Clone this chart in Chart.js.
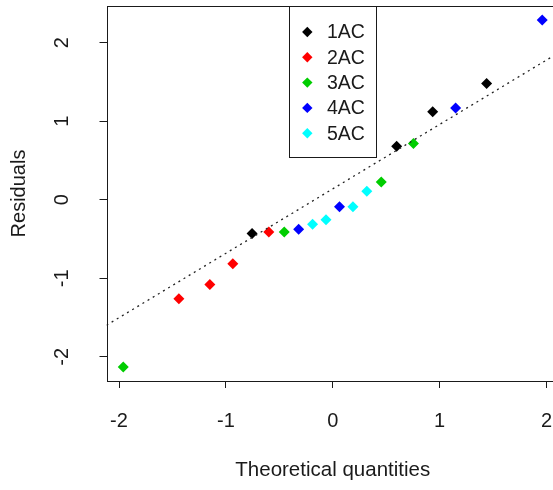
<!DOCTYPE html>
<html>
<head>
<meta charset="utf-8">
<script src="https://cdn.jsdelivr.net/npm/chart.js@4/dist/chart.umd.min.js"></script>
<style>
  html, body { margin: 0; padding: 0; background: #fff; overflow: hidden; }
  canvas { display: block; }
</style>
</head>
<body>
<canvas id="qq" width="600" height="490"></canvas>
<script>
// Normal Q-Q plot of model residuals, coloured by group
const groups = ['1AC', '2AC', '3AC', '4AC', '5AC'];

// theoretical normal quantiles of each observation, per group
const quantiles1AC = [-0.755, 0.598, 0.935, 1.440];
const quantiles2AC = [-1.440, -1.150, -0.935, -0.598];
const quantiles3AC = [-1.960, -0.454, 0.454, 0.755];
const quantiles4AC = [-0.319, 0.063, 1.150, 1.960];
const quantiles5AC = [-0.189, -0.063, 0.189, 0.319];

// sample residuals, same order as the quantiles above
const residuals1AC = [-0.43, 0.68, 1.12, 1.48];
const residuals2AC = [-1.26, -1.08, -0.815, -0.41];
const residuals3AC = [-2.13, -0.41, 0.225, 0.715];
const residuals4AC = [-0.375, -0.09, 1.17, 2.29];
const residuals5AC = [-0.31, -0.255, -0.09, 0.11];

// reference line (through the quartiles)
const qqIntercept = 0.139;
const qqSlope = 0.820;

// axis ranges and ticks
const xRange = [-2.117, 2.117];
const yRange = [-2.307, 2.467];
const xTicks = [-2, -1, 0, 1, 2];
const yTicks = [-2, -1, 0, 1, 2];

const groupColors = ['#000000', '#ff0000', '#00cd00', '#0000ff', '#00ffff'];

const quantileSets = [quantiles1AC, quantiles2AC, quantiles3AC, quantiles4AC, quantiles5AC];
const residualSets = [residuals1AC, residuals2AC, residuals3AC, residuals4AC, residuals5AC];

const FONT = "'Liberation Sans', Arial, sans-serif";
const INK = '#1a1a1a';

const pointSets = groups.map((g, i) => ({
  label: g,
  data: quantileSets[i].map((q, k) => ({ x: q, y: residualSets[i][k] })),
  backgroundColor: groupColors[i],
  borderColor: groupColors[i],
  borderWidth: 0,
  pointStyle: 'rectRot',
  pointRadius: 5.5,
  pointHoverRadius: 5.5
}));

const lineSet = {
  label: 'qqline',
  isRefLine: true,
  data: xRange.map(x => ({ x: x, y: qqIntercept + qqSlope * x })),
  showLine: true,
  borderColor: '#222',
  borderWidth: 1.3,
  borderDash: [2, 4],
  pointRadius: 0,
  fill: false
};

// frame around the plotting region
const frame = {
  id: 'frame',
  afterDraw(chart) {
    const { ctx, chartArea: a } = chart;
    ctx.save();
    ctx.strokeStyle = INK;
    ctx.lineWidth = 1;
    ctx.strokeRect(Math.round(a.left) + 0.5, Math.round(a.top) + 0.5,
                   Math.round(a.right - a.left), Math.round(a.bottom - a.top));
    ctx.restore();
  }
};

// boxed legend placed inside the plot at the top
const boxLegend = {
  id: 'boxLegend',
  afterDraw(chart) {
    const { ctx, chartArea: a } = chart;
    const items = chart.data.datasets.filter(d => !d.isRefLine);
    const left = 289.5, right = 376.5;
    const top = Math.round(a.top) + 0.5, bottom = 157.5;
    ctx.save();
    ctx.fillStyle = '#fff';
    ctx.fillRect(left, top, right - left, bottom - top);
    ctx.strokeStyle = INK;
    ctx.lineWidth = 1;
    ctx.strokeRect(left, top, right - left, bottom - top);
    ctx.font = '19.5px ' + FONT;
    ctx.textBaseline = 'middle';
    ctx.textAlign = 'left';
    const rowTop = 32, rowStep = 25.3;
    items.forEach((d, i) => {
      const y = rowTop + i * rowStep;
      const x = 307.3, r = 5.2;
      ctx.fillStyle = d.backgroundColor;
      ctx.beginPath();
      ctx.moveTo(x, y - r); ctx.lineTo(x + r, y); ctx.lineTo(x, y + r); ctx.lineTo(x - r, y);
      ctx.closePath();
      ctx.fill();
      ctx.fillStyle = INK;
      ctx.fillText(d.label, 327, y + 1);
    });
    ctx.restore();
  }
};

new Chart(document.getElementById('qq'), {
  type: 'scatter',
  data: { datasets: [lineSet, ...pointSets] },
  options: {
    responsive: false,
    animation: false,
    layout: { padding: { left: 0, top: 6, right: 41, bottom: 0 } },
    plugins: { legend: { display: false }, tooltip: { enabled: false } },
    scales: {
      x: {
        type: 'linear',
        min: xRange[0], max: xRange[1],
        afterBuildTicks: s => { s.ticks = xTicks.map(v => ({ value: v })); },
        afterFit: s => { s.height = 109; s.paddingLeft = 0; s.paddingRight = 0; },
        grid: { drawOnChartArea: false, drawTicks: true, tickLength: 7, tickColor: INK, tickWidth: 1 },
        border: { display: false },
        ticks: { color: INK, padding: 21, font: { family: FONT, size: 20 }, maxRotation: 0 },
        title: { display: true, text: 'Theoretical quantities', color: INK,
                 font: { family: FONT, size: 20.5 }, padding: { top: 0, bottom: 7 } }
      },
      y: {
        type: 'linear',
        min: yRange[0], max: yRange[1],
        afterBuildTicks: s => { s.ticks = yTicks.map(v => ({ value: v })); },
        afterFit: s => { s.width = 106.5; s.paddingTop = 0; s.paddingBottom = 0; },
        grid: { drawOnChartArea: false, drawTicks: true, tickLength: 7, tickColor: INK, tickWidth: 1 },
        border: { display: false },
        ticks: { color: INK, padding: 28, crossAlign: 'center', minRotation: 90, maxRotation: 90,
                 font: { family: FONT, size: 20 } },
        title: { display: true, text: 'Residuals', color: INK,
                 font: { family: FONT, size: 20 }, padding: { top: 7, bottom: 0 } }
      }
    }
  },
  plugins: [frame, boxLegend]
});
</script>
</body>
</html>
